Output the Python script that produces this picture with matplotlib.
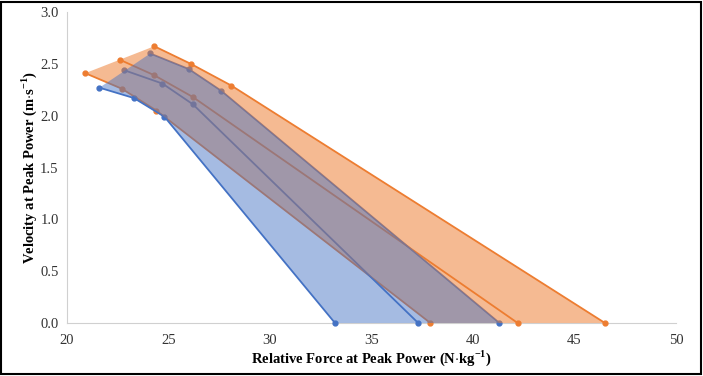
import matplotlib.pyplot as plt
from matplotlib.patches import Rectangle

# blue group: lower / mean / upper curves
blue_low_x = [21.6, 23.3, 24.8, 33.2]
blue_low_y = [2.27, 2.17, 1.99, 0.0]
blue_mid_x = [22.8, 24.7, 26.2, 37.3]
blue_mid_y = [2.44, 2.31, 2.11, 0.0]
blue_up_x = [24.1, 26.0, 27.6, 41.3]
blue_up_y = [2.60, 2.45, 2.24, 0.0]

# orange group: lower / mean / upper curves
orange_low_x = [20.9, 22.7, 24.4, 37.9]
orange_low_y = [2.41, 2.26, 2.05, 0.0]
orange_mid_x = [22.6, 24.3, 26.2, 42.2]
orange_mid_y = [2.54, 2.39, 2.18, 0.0]
orange_up_x = [24.3, 26.1, 28.1, 46.5]
orange_up_y = [2.67, 2.50, 2.29, 0.0]

blue = '#4472C4'
orange = '#ED7D31'

plt.rcParams['font.family'] = ['Liberation Serif', 'DejaVu Serif']
plt.rcParams['mathtext.fontset'] = 'custom'
plt.rcParams['mathtext.rm'] = 'Liberation Serif'
plt.rcParams['mathtext.bf'] = 'Liberation Serif:bold'

fig = plt.figure(figsize=(7.03, 3.76), dpi=100)
ax = fig.add_axes([0.0953, 0.141, 0.8663, 0.827])

# lines first, the translucent bands go on top (like the original)
for xs, ys in [(orange_low_x, orange_low_y), (orange_mid_x, orange_mid_y), (orange_up_x, orange_up_y)]:
    ax.plot(xs, ys, color=orange, marker='o', markersize=3.5, linewidth=1.3, clip_on=False, zorder=1)
for xs, ys in [(blue_low_x, blue_low_y), (blue_mid_x, blue_mid_y), (blue_up_x, blue_up_y)]:
    ax.plot(xs, ys, color=blue, marker='o', markersize=3.5, linewidth=1.3, clip_on=False, zorder=1)

ax.fill(orange_up_x + orange_low_x[::-1], orange_up_y + orange_low_y[::-1],
        color=orange, alpha=0.53, lw=0, zorder=2)
ax.fill(blue_up_x + blue_low_x[::-1], blue_up_y + blue_low_y[::-1],
        color=blue, alpha=0.48, lw=0, zorder=3)

ax.set_xlim(20, 50)
ax.set_ylim(0, 3.0)
ax.set_xticks([20, 25, 30, 35, 40, 45, 50])
ax.set_yticks([0.0, 0.5, 1.0, 1.5, 2.0, 2.5, 3.0])
ax.set_yticklabels(['0.0', '0.5', '1.0', '1.5', '2.0', '2.5', '3.0'])
ax.tick_params(length=0, labelsize=10.5, colors='#333333')
ax.tick_params(axis='x', pad=8)
ax.tick_params(axis='y', pad=6)
for s in ['top', 'right']:
    ax.spines[s].set_visible(False)
for s in ['left', 'bottom']:
    ax.spines[s].set_color('#D0D0D0')
    ax.spines[s].set_zorder(0)

ax.set_xlabel('Relative Force at Peak Power (N$\\cdot$kg$^{\\mathbf{-1}}$)', fontsize=10.5,
              fontweight='bold', labelpad=1)
ax.set_ylabel('Velocity at Peak Power (m$\\cdot$s$^{\\mathbf{-1}}$)', fontsize=10.5,
              fontweight='bold', labelpad=1)

# black frame around the picture
fig.patches.append(Rectangle((0.002, 0.004), 0.995, 0.992, transform=fig.transFigure,
                             fill=False, edgecolor='black', linewidth=1.5))

fig.savefig('out.png', dpi=100)
